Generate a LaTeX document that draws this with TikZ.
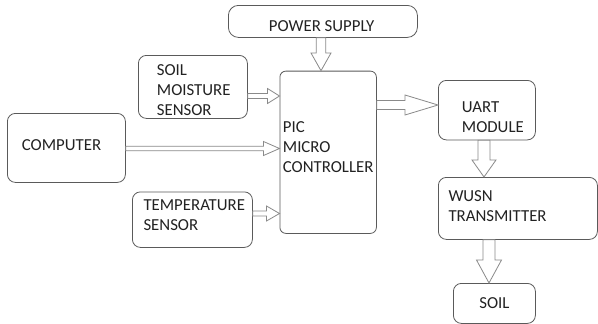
\documentclass[tikz,border=0pt]{standalone}
\usepackage{fontspec}
\setmainfont{Carlito}
\usetikzlibrary{calc}
\definecolor{boxline}{HTML}{5A5A5A}
\definecolor{arrline}{HTML}{8A8A8A}
\definecolor{txt}{HTML}{222222}
\tikzset{
  box/.style={draw=boxline, line width=0.8pt, rounded corners=8pt, fill=white,
     anchor=north west, inner sep=0pt},
  lbl/.style={inner sep=0pt, anchor=north west, align=left, text=txt,
     font=\fontsize{16.8}{20}\selectfont},
  barrow/.style={draw=arrline, line width=0.8pt, fill=white, line join=miter},
}
% horizontal block arrow: start, end, shaft half, head half, head length
\newcommand\harr[5]{%
  \draw[barrow] ($(#1)+(0,#3)$) -- ($(#2)+(-#5,#3)$) -- ($(#2)+(-#5,#4)$) -- (#2)
     -- ($(#2)+(-#5,-#4)$) -- ($(#2)+(-#5,-#3)$) -- ($(#1)+(0,-#3)$) -- cycle;}
% vertical (downward) block arrow
\newcommand\varr[5]{%
  \draw[barrow] ($(#1)+(#3,0)$) -- ($(#2)+(#3,-#5)$) -- ($(#2)+(#4,-#5)$) -- (#2)
     -- ($(#2)+(-#4,-#5)$) -- ($(#2)+(-#3,-#5)$) -- ($(#1)+(-#3,0)$) -- cycle;}
\begin{document}
\begin{tikzpicture}[x=1pt,y=-1pt]
\useasboundingbox[fill=white] (0,0) rectangle (598,324);
% boxes
\node[box, rounded corners=10pt, minimum width=189pt, minimum height=32pt] (pow) at (228,5) {};
\node[box, rounded corners=6pt, minimum width=96.5pt, minimum height=162.3pt] (pic) at (279.5,70.7) {};
\node[box, minimum width=109pt, minimum height=63pt] (sm) at (138,55) {};
\node[box, minimum width=118pt, minimum height=69pt] (comp) at (7,113) {};
\node[box, minimum width=120pt, minimum height=55.5pt] (temp) at (132,191.5) {};
\node[box, minimum width=97pt, minimum height=59.5pt] (uart) at (438,80) {};
\node[box, minimum width=159pt, minimum height=62pt] (wusn) at (438,177) {};
\node[box, minimum width=82pt, minimum height=40pt] (soil) at (453,283) {};
% labels
\node[lbl, anchor=north] (powt) at (321.7,20.7) {POWER SUPPLY};
\node[lbl] (smt) at (156.7,64.5) {SOIL\\MOISTURE\\SENSOR};
\node[lbl] (compt) at (21.7,139.5) {COMPUTER};
\node[lbl] (tempt) at (143.3,200) {TEMPERATURE\\SENSOR};
\node[lbl] (pict) at (282.7,121) {PIC\\MICRO\\CONTROLLER};
\node[lbl] (uartt) at (461.7,102) {UART\\MODULE};
\node[lbl] (wusnt) at (448.3,190) {WUSN\\TRANSMITTER};
\node[lbl, anchor=center] (soilt) at (soil.center) {SOIL};
% reference coordinates for the block arrows
\coordinate (ysm) at (0,96);
\coordinate (ycomp) at (0,148.5);
\coordinate (ytemp) at (0,213.5);
\coordinate (yuart) at (0,105);
\coordinate (xpow) at (321,0);
\coordinate (xuw) at (484,0);
\coordinate (xws) at (489,0);
% block arrows
\varr{pow.south -| xpow}{pic.north -| xpow}{4.7}{10}{17.7}
\harr{sm.east |- ysm}{pic.west |- ysm}{2.5}{7.5}{12}
\harr{comp.east |- ycomp}{pic.west |- ycomp}{2.2}{7}{16}
\harr{temp.east |- ytemp}{pic.west |- ytemp}{2.5}{7.5}{13}
\harr{pic.east |- yuart}{uart.west |- yuart}{4.5}{10}{33}
\varr{uart.south -| xuw}{wusn.north -| xuw}{6}{12}{17}
\varr{wusn.south -| xws}{soil.north -| xws}{6}{12.5}{23}
\end{tikzpicture}
\end{document}
